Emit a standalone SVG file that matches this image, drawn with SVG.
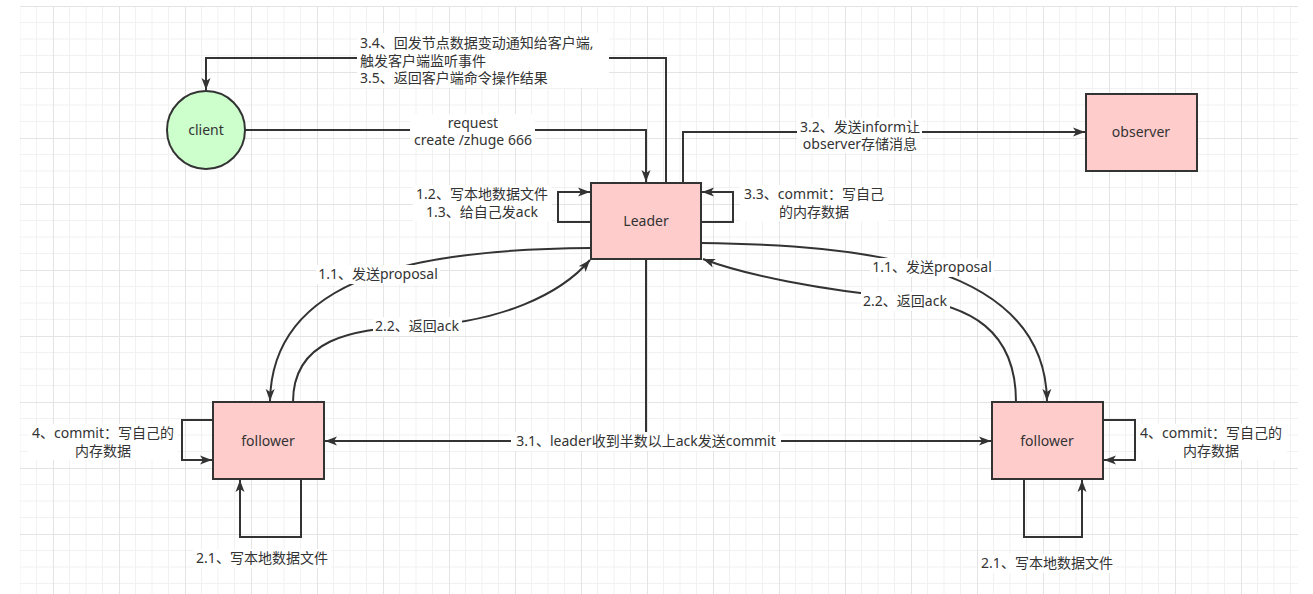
<svg xmlns="http://www.w3.org/2000/svg" width="1313" height="594" viewBox="0 0 1313 594">
<style>
text{font-family:"Noto Sans","Noto Sans CJK SC",sans-serif;font-size:14px;fill:#333;}
.c{text-anchor:middle;}
.s{text-anchor:start;}
.node{stroke:#333;stroke-width:2;}
.box{fill:#ffcccc;}
.circ{fill:#ccffcc;}
.edge{fill:none;stroke:#333;stroke-width:2;}
.arr{marker-end:url(#ah);}
.bg{fill:#fff;}
</style>
<defs>
<marker id="ah" markerUnits="userSpaceOnUse" markerWidth="13" markerHeight="10" refX="12" refY="5" orient="auto">
<path d="M0,0.5 L12,5 L0,9.5 L3,5 z" fill="#333"/>
</marker>
<pattern id="grid" patternUnits="userSpaceOnUse" x="53" y="6" width="66" height="66">
<rect x="0" y="0" width="66" height="66" fill="#fff"/>
<path d="M16.5,0V66M33,0V66M49.5,0V66M0,16.5H66M0,33H66M0,49.5H66" stroke="#f1f1f1" stroke-width="1"/>
<path d="M0.5,0V66M0,0.5H66" stroke="#e4e4e4" stroke-width="1"/>
</pattern>
</defs>
<rect x="0" y="0" width="1313" height="594" fill="#fff"/>
<rect x="20" y="6" width="1278" height="588" fill="url(#grid)"/>

<g id="connectors">
<path class="edge arr" d="M245,130 H646 V182"/>
<path class="edge arr" d="M666,183 V58 H206 V90"/>
<path class="edge arr" d="M683,183 V132 H1085"/>
<path class="edge arr" d="M591,222 H558 V192 H590"/>
<path class="edge arr" d="M701,222 H733 V192 H702"/>
<path class="edge" d="M646,259 V441"/>
<path class="edge arr" d="M646,441 H325"/>
<path class="edge arr" d="M646,441 H991"/>
<path class="edge arr" d="M591,248 C420,249 272,275 270,401"/>
<path class="edge arr" d="M293,402 C293,340 350,328 420,326 C500,322 560,295 590,260"/>
<path class="edge arr" d="M701,243 C860,245 1045,262 1047,401"/>
<path class="edge arr" d="M1016,402 C1016,330 970,305 905,298 C820,290 745,275 703,259"/>
<path class="edge arr" d="M213,420 H182 V460 H212"/>
<path class="edge arr" d="M301,479 V537 H240 V480"/>
<path class="edge arr" d="M1103,420 H1135 V460 H1104"/>
<path class="edge arr" d="M1024,479 V537 H1082 V480"/>

<g id="labels">
<rect class="bg" x="410" y="114" width="125" height="34"/>
<text class="c" x="473" y="128">request</text>
<text class="c" x="473" y="145">create /zhuge 666</text>

<rect class="bg" x="357" y="33" width="252" height="55"/>
<text class="s" x="360" y="48">3.4、回发节点数据变动通知给客户端,</text>
<text class="s" x="360" y="66">触发客户端监听事件</text>
<text class="s" x="360" y="83">3.5、返回客户端命令操作结果</text>

<rect class="bg" x="797" y="118" width="125" height="35"/>
<text class="c" x="860" y="132">3.2、发送inform让</text>
<text class="c" x="860" y="149">observer存储消息</text>

<rect class="bg" x="413" y="185" width="139" height="36"/>
<text class="c" x="482" y="199">1.2、写本地数据文件</text>
<text class="c" x="482" y="217">1.3、给自己发ack</text>

<rect class="bg" x="740" y="185" width="148" height="36"/>
<text class="c" x="814" y="199">3.3、commit：写自己</text>
<text class="c" x="814" y="217">的内存数据</text>

<rect class="bg" x="511" y="432" width="270" height="19"/>
<text class="c" x="646" y="446">3.1、leader收到半数以上ack发送commit</text>

<rect class="bg" x="316" y="265" width="124" height="19"/>
<text class="c" x="378" y="279">1.1、发送proposal</text>

<rect class="bg" x="373" y="317" width="89" height="19"/>
<text class="c" x="417" y="331">2.2、返回ack</text>

<rect class="bg" x="870" y="258" width="124" height="19"/>
<text class="c" x="932" y="272">1.1、发送proposal</text>

<rect class="bg" x="861" y="292" width="89" height="19"/>
<text class="c" x="905" y="306">2.2、返回ack</text>

<rect class="bg" x="28" y="424" width="150" height="36"/>
<text class="c" x="103" y="438">4、commit：写自己的</text>
<text class="c" x="103" y="456">内存数据</text>

<rect class="bg" x="193" y="549" width="138" height="19"/>
<text class="c" x="262" y="563">2.1、写本地数据文件</text>

<rect class="bg" x="1137" y="424" width="150" height="36"/>
<text class="c" x="1211" y="438">4、commit：写自己的</text>
<text class="c" x="1211" y="456">内存数据</text>

<rect class="bg" x="978" y="554" width="138" height="19"/>
<text class="c" x="1047" y="568">2.1、写本地数据文件</text>
</g>
</g>

<g id="client">
<circle class="node circ" cx="206" cy="130" r="39"/>
<text class="c" x="206" y="135">client</text>
</g>
<g id="leader">
<rect class="node box" x="591" y="183" width="110" height="76"/>
<text class="c" x="646" y="226">Leader</text>
</g>
<g id="observer">
<rect class="node box" x="1086" y="94" width="111" height="77"/>
<text class="c" x="1141" y="137">observer</text>
</g>
<g id="follower-left">
<rect class="node box" x="213" y="402" width="111" height="77"/>
<text class="c" x="268" y="446">follower</text>
</g>
<g id="follower-right">
<rect class="node box" x="992" y="402" width="111" height="77"/>
<text class="c" x="1047" y="446">follower</text>
</g>
</svg>
